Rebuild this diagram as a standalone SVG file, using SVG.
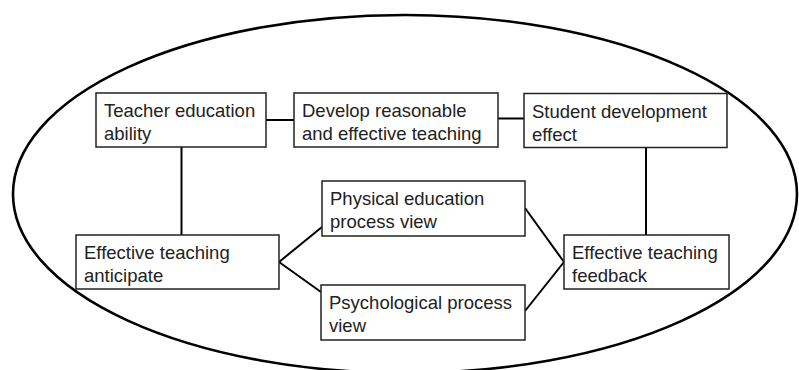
<svg xmlns="http://www.w3.org/2000/svg" width="799" height="370" viewBox="0 0 799 370">
  <style>
    .frame { fill: none; stroke: #000; stroke-width: 2.6; }
    .box rect { fill: #fff; stroke: #222; stroke-width: 1.5; }
    .box text { font-family: "Liberation Sans", Arial, sans-serif; font-size: 18.5px; fill: #222; }
    .links line { stroke: #000; stroke-width: 2; stroke-linecap: butt; }
  </style>
  <rect width="799" height="370" fill="#fff"/>

  <!-- outer boundary -->
  <ellipse class="frame" cx="405" cy="194" rx="392" ry="179"/>

  <!-- connectors -->
  <g id="connectors" class="links">
    <line x1="266" y1="120" x2="294" y2="120"/>
    <line x1="498" y1="118.5" x2="524" y2="118.5"/>
    <line x1="181.5" y1="147" x2="181.5" y2="235"/>
    <line x1="646" y1="147.5" x2="646" y2="235"/>
    <line x1="279" y1="262" x2="322" y2="227"/>
    <line x1="279" y1="262" x2="321" y2="292"/>
    <line x1="525" y1="208" x2="564" y2="262"/>
    <line x1="525" y1="311" x2="564" y2="262"/>
  </g>

  <g id="teacher-ability" class="box">
    <rect x="96" y="93" width="170" height="54"/>
    <text x="104" y="117">Teacher education</text>
    <text x="104" y="140">ability</text>
  </g>

  <g id="develop-teaching" class="box">
    <rect x="294" y="93" width="204" height="54"/>
    <text x="302" y="117">Develop reasonable</text>
    <text x="302" y="140">and effective teaching</text>
  </g>

  <g id="student-effect" class="box">
    <rect x="524" y="93.5" width="203" height="54"/>
    <text x="532" y="117.5">Student development</text>
    <text x="532" y="140.5">effect</text>
  </g>

  <g id="teaching-anticipate" class="box">
    <rect x="76" y="235" width="203" height="54"/>
    <text x="84" y="259">Effective teaching</text>
    <text x="84" y="282">anticipate</text>
  </g>

  <g id="pe-process" class="box">
    <rect x="322" y="181" width="203" height="55"/>
    <text x="330" y="205">Physical education</text>
    <text x="330" y="228">process view</text>
  </g>

  <g id="psych-process" class="box">
    <rect x="321" y="285" width="204" height="55"/>
    <text x="329" y="309">Psychological process</text>
    <text x="329" y="332">view</text>
  </g>

  <g id="teaching-feedback" class="box">
    <rect x="564" y="235" width="165" height="54"/>
    <text x="572" y="259">Effective teaching</text>
    <text x="572" y="282">feedback</text>
  </g>
</svg>
